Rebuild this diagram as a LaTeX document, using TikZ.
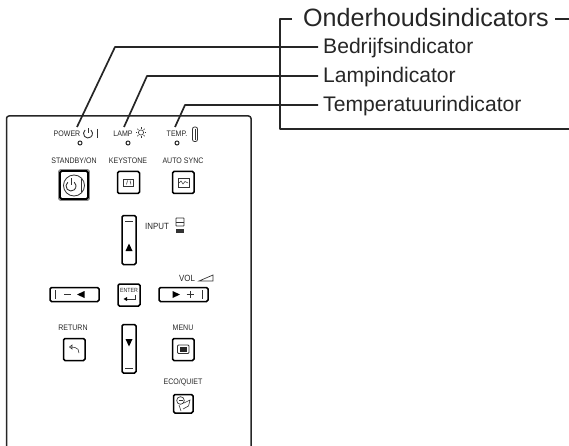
\documentclass[tikz,border=0pt]{standalone}
\usepackage{fontspec}
\setmainfont{Liberation Sans}
\begin{document}
\begin{tikzpicture}[x=1pt,y=-1pt,
  lead/.style={line width=1.7pt,draw=black!85,line join=round},
  big/.style={inner sep=0pt,anchor=west,font=\fontsize{25.1}{25}\selectfont,text=black!85},
  mid/.style={inner sep=0pt,anchor=west,font=\fontsize{21.1}{21}\selectfont,text=black!85},
  small/.style={inner sep=0pt,xscale=.88,font=\fontsize{8}{8}\selectfont,text=black!85},
  btn/.style={draw=black,line width=1.5pt,rounded corners=1.5pt,fill=white},
  led/.style={circle,draw=black!85,line width=1pt,inner sep=0pt,minimum size=4pt},
  icon/.style={draw=black!80,line width=0.6pt},
  tri/.style={fill=black,draw=none}]
\useasboundingbox (0,0) rectangle (569,446);
% remote outline
\draw[line width=1.5pt,draw=black!85,rounded corners=2.5pt] (6.5,447) -- (6.5,116) -- (251,116) -- (251,447);
% bracket
\coordinate (bs) at (292,19); \coordinate (be) at (570,129);
\coordinate (ts) at (555,19); \coordinate (te) at (570,19);
\draw[lead] (bs) -- (280,19) -- (280,129) -- (be);
\draw[lead] (ts) -- (te);
\node[big] (title) at (303,17.5) {Onderhoudsindicators};
\node[mid] (bedrijf) at (323,48) {Bedrijfsindicator};
\node[mid] (lamp) at (323,77) {Lampindicator};
\node[mid] (temp) at (323,106) {Temperatuurindicator};
% labels on remote
\node[small] (lpower) at (67,134) {POWER};
\node[small] (llamp) at (123,134) {LAMP};
\node[small] (ltemp) at (177,134) {TEMP.};
\node[led] (ledp) at (80,143) {};
\node[led] (ledl) at (128,143) {};
\node[led] (ledt) at (177,143) {};
% leaders
\coordinate (p1) at (77,127); \coordinate (p2) at (124,127); \coordinate (p3) at (175,127);
\draw[lead] (bedrijf.west) ++(-5,-1) -- (115,47) -- (p1);
\draw[lead] (lamp.west) ++(-5,-1) -- (147,76) -- (p2);
\draw[lead] (temp.west) ++(-5,-1) -- (185,105) -- (p3);
% power icon
\draw[icon,line width=0.9pt] (85.1,130.05) arc (230:-50:4.5);
\draw[icon,line width=0.9pt] (88,128.5) -- (88,133);
\draw[icon,line width=1pt] (97,129) -- (97,138);
% sun icon
\draw[icon] (141,132.5) circle (2.6);
\foreach \a in {0,45,...,315}{\draw[icon,line width=0.5pt] (141,132.5)++(\a:3.6) -- ++(\a:1.8);}
% thermometer
\draw[icon,line width=0.8pt,rounded corners=2pt] (192.5,127) rectangle (197.5,141.5);
\draw[icon,line width=0.5pt] (195,129) -- (195,140);
% top labels
\node[small] (lstandby) at (74,161) {STANDBY/ON};
\node[small] (lkey) at (128,161) {KEYSTONE};
\node[small] (lauto) at (183,161) {AUTO SYNC};
% standby
\draw[draw=black!45,line width=1pt,rounded corners=1.5pt] (58.7,169.7) rectangle (89.3,200.3);
\draw[btn,line width=1.8pt] (60,171) rectangle (88,199);
\draw[icon,line width=0.8pt] (74,185.5) circle (10.5);
\draw[icon,line width=0.9pt] (67.8,182.2) arc (230:-50:5);
\draw[icon,line width=0.9pt] (71,178.5) -- (71,185);
\draw[icon,line width=1pt] (81.5,179) -- (81.5,192);
% keystone
\draw[btn] (117.5,171.5) rectangle (139.5,193.5);
\draw[icon] (123.5,179) rectangle (133.5,186);
\draw[icon,line width=0.5pt] (126.5,184.5) -- (127.5,180.5) (131,184.5) -- (130,180.5);
% auto sync
\draw[btn] (172.5,171.5) rectangle (194,193.5);
\draw[icon] (178,178.5) rectangle (189,187);
\draw[icon,line width=0.5pt] (179,183) -- (181,181) -- (183,184) -- (185,181.5) -- (188,183);
% input up
\draw[btn] (122,215.5) rectangle (136,264.5);
\draw[icon,line width=0.9pt] (125,221) -- (133,221);
\fill[tri] (125.5,251) -- (132.5,251) -- (129,243.5) -- cycle;
\node[small,font=\fontsize{9}{9}\selectfont] (linput) at (157,226) {INPUT};
\draw[icon,line width=0.9pt,rounded corners=0.5pt] (176,218) rectangle (184,226);
\draw[icon,line width=0.9pt] (176,222) -- (184,222);
\fill[black!80] (176,229) rectangle (184,232.5);
% vol
\node[small,font=\fontsize{9}{9}\selectfont] (lvol) at (187,278) {VOL};
\draw[icon,line width=0.7pt] (199,281) -- (213,281) -- (213,275) -- cycle;
% left
\draw[btn] (50,287.5) rectangle (99,301.5);
\draw[icon,line width=0.9pt] (55,290) -- (55,299);
\draw[icon,line width=0.9pt] (64,294.5) -- (71,294.5);
\fill[tri] (77,294.5) -- (84.5,291) -- (84.5,298) -- cycle;
% enter
\draw[btn] (118,284) rectangle (140,306);
\node[small,font=\fontsize{6}{6}\selectfont] (lenter) at (129,290) {ENTER};
\draw[icon,line width=0.9pt] (135,295) -- (135,299) -- (126,299);
\fill[tri] (123.5,299) -- (127,297) -- (127,301) -- cycle;
% right
\draw[btn] (159,287.5) rectangle (208,301.5);
\fill[tri] (180,294.5) -- (172.5,291) -- (172.5,298) -- cycle;
\draw[icon,line width=0.9pt] (186.5,294.5) -- (193.5,294.5) (190,291) -- (190,298);
\draw[icon,line width=0.9pt] (202,290) -- (202,299);
% bottom labels
\node[small] (lreturn) at (73,327.5) {RETURN};
\node[small] (lmenu) at (183,327.5) {MENU};
\node[small] (leco) at (183,382) {ECO/QUIET};
% return
\draw[btn] (63.5,338.5) rectangle (85,360.5);
\draw[icon,line width=0.6pt] (71,347) -- (75,347.5) to[out=0,in=90] (79,353);
\draw[icon,line width=0.6pt] (72,345) -- (69.5,347) -- (72,349) -- cycle;
% menu
\draw[btn] (172.5,338.5) rectangle (194,360.5);
\draw[icon,rounded corners=1pt,line width=0.8pt] (177.5,345) rectangle (189,353.5);
\fill[black!85] (180,347) rectangle (186.5,351.5);
% down
\draw[btn] (122,324.5) rectangle (136,373);
\fill[tri] (125.5,339) -- (132.5,339) -- (129,346.5) -- cycle;
\draw[icon,line width=0.9pt] (125,368) -- (133,368);
% eco
\draw[btn] (173.5,394.5) rectangle (193,413);
\draw[icon,line width=0.7pt] (180.5,400.5) circle (3.8);
\draw[icon,line width=0.6pt] (179,405) -- (181,411) (184,403) -- (190,400) -- (188.5,406) -- (183,409);
\draw[icon,line width=0.5pt] (178.5,400) -- (182.5,400);
\end{tikzpicture}
\end{document}
